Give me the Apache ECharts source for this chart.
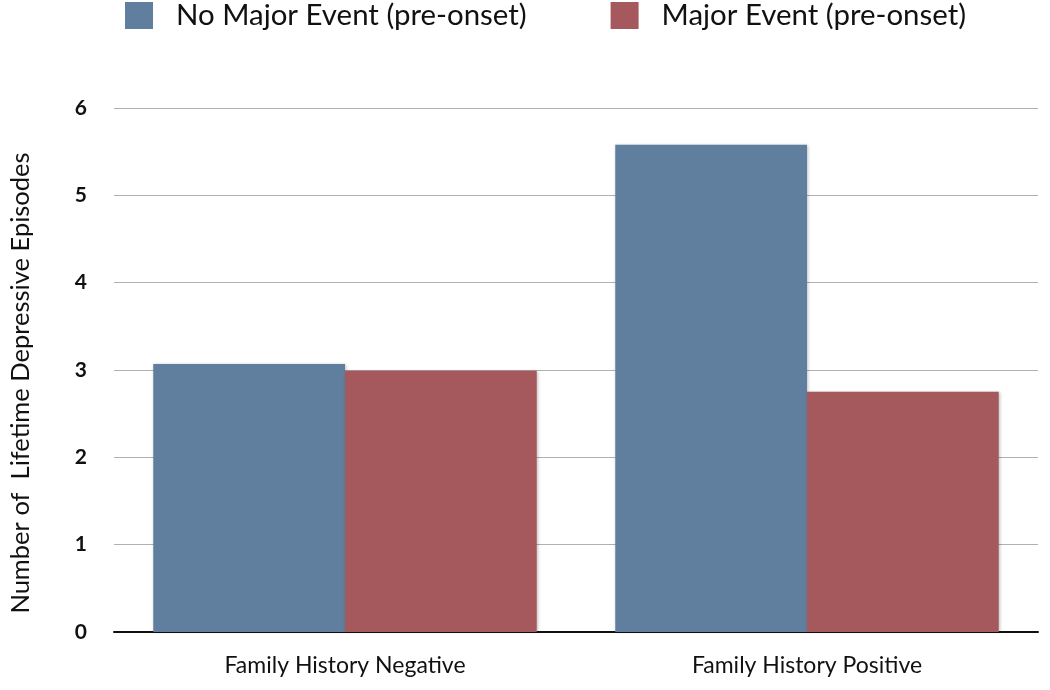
<!DOCTYPE html>
<html>
<head>
<meta charset="utf-8">
<script src="https://cdn.jsdelivr.net/npm/echarts@6/dist/echarts.min.js"></script>
<style>
html,body{margin:0;padding:0;background:#fff;}
#chart{width:1050px;height:690px;}
</style>
</head>
<body>
<div id="chart"></div>
<script>
var categories = ['Family History Negative', 'Family History Positive'];
var seriesNames = ['No Major Event (pre-onset)', 'Major Event (pre-onset)'];
var noMajorEvent = [3.07, 5.58];
var majorEvent = [2.99, 2.75];
var yAxisTitle = 'Number of  Lifetime Depressive Episodes';

var chart = echarts.init(document.getElementById('chart'));
var fontFam = 'Lato, "Open Sans", sans-serif';
chart.setOption({
  animation: false,
  backgroundColor: '#ffffff',
  legend: {
    top: 1,
    left: 125,
    padding: 0,
    itemWidth: 28,
    itemHeight: 27,
    itemGap: 84,
    icon: 'rect',
    textStyle: { fontFamily: fontFam, fontSize: 29.4, color: '#111', padding: [0, 0, 0, 18] },
    data: seriesNames
  },
  grid: { left: 114, right: 12, top: 108, bottom: 58, containLabel: false },
  xAxis: {
    type: 'category',
    data: categories,
    axisLine: { lineStyle: { color: '#111', width: 2 } },
    axisTick: { show: false },
    axisLabel: { fontFamily: fontFam, fontSize: 23, color: '#111', margin: 22 }
  },
  yAxis: {
    type: 'value',
    min: 0, max: 6, interval: 1,
    name: yAxisTitle,
    nameLocation: 'middle',
    nameGap: 80,
    nameTextStyle: { fontFamily: fontFam, fontSize: 25.5, color: '#111', padding: [0, 26, 0, 0] },
    axisLine: { show: false },
    axisTick: { show: false },
    axisLabel: { fontFamily: fontFam, fontSize: 21, fontWeight: 'bold', color: '#111', margin: 27 },
    splitLine: { lineStyle: { color: '#b0b0b0', width: 1 } }
  },
  series: [
    {
      name: seriesNames[0], type: 'bar', data: noMajorEvent,
      barGap: '0%', barCategoryGap: '17%',
      itemStyle: { color: '#607e9e', shadowColor: 'rgba(0,0,0,0.25)', shadowBlur: 3, shadowOffsetX: 1 }
    },
    {
      name: seriesNames[1], type: 'bar', data: majorEvent,
      itemStyle: { color: '#a6595d', shadowColor: 'rgba(0,0,0,0.25)', shadowBlur: 3, shadowOffsetX: 1 }
    }
  ]
});
</script>
</body>
</html>
